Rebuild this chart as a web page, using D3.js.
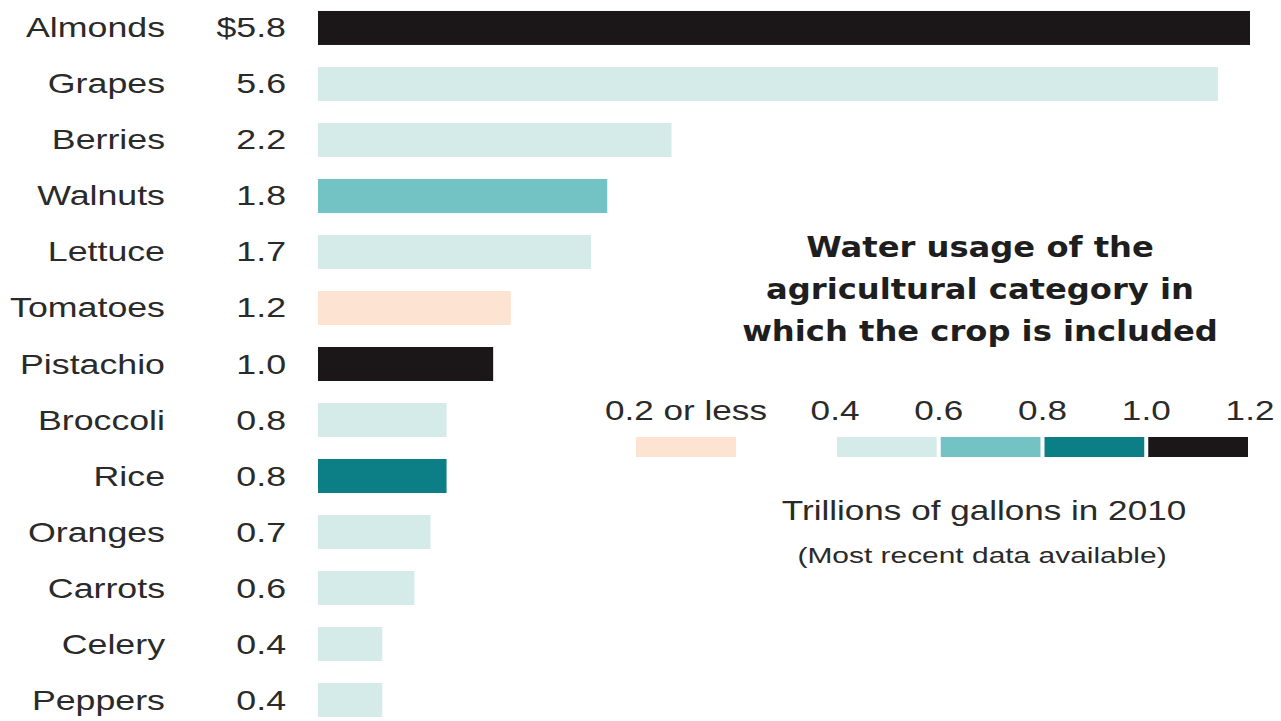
<!DOCTYPE html>
<html>
<head>
<meta charset="utf-8">
<script src="https://cdn.jsdelivr.net/npm/d3@7/dist/d3.min.js"></script>
<style>
  html, body { margin: 0; padding: 0; background: #ffffff; }
  svg { display: block; }
</style>
</head>
<body>
<svg id="chart" width="1281" height="721"></svg>
<script>
// ---- Data ----
const crops = ["Almonds","Grapes","Berries","Walnuts","Lettuce","Tomatoes","Pistachio","Broccoli","Rice","Oranges","Carrots","Celery","Peppers"];
const values = [5.8, 5.6, 2.2, 1.8, 1.7, 1.2, 1.09, 0.8, 0.8, 0.7, 0.6, 0.4, 0.4];
const valueLabels = ["$5.8","5.6","2.2","1.8","1.7","1.2","1.0","0.8","0.8","0.7","0.6","0.4","0.4"];
// water-usage bin of each crop's agricultural category
const cropBins = ["1.0–1.2","0.4–0.6","0.4–0.6","0.6–0.8","0.4–0.6","0.2 or less","1.0–1.2","0.4–0.6","0.8–1.0","0.4–0.6","0.4–0.6","0.4–0.6","0.4–0.6"];
const bins = ["0.2 or less","0.4–0.6","0.6–0.8","0.8–1.0","1.0–1.2"];
const binColors = ["#fde4d2","#d4ebea","#74c3c4","#0b7e86","#1b1718"];
const legendTicks = [0.4, 0.6, 0.8, 1.0, 1.2];
const legendSteps = [[0.4,0.6],[0.6,0.8],[0.8,1.0],[1.0,1.2]];
const titleLines = ["Water usage of the","agricultural category in","which the crop is included"];
const noteLines = ["Trillions of gallons in 2010","(Most recent data available)"];

// ---- Layout ----
const svg = d3.select("#chart");
const textColor = "#2a2a2a";
const regFont = "'Liberation Sans', Arial, sans-serif";
const boldFont = "'DejaVu Sans', sans-serif";
const SX = 1.3;   // horizontal stretch of regular text
const SXB = 1.15; // horizontal stretch of bold text

const x = d3.scaleLinear().domain([0, 5.8]).range([318, 1250]);
const y = d3.scaleBand().domain(crops).range([0, 728]).paddingInner(0.393).paddingOuter(0.196);
const color = d3.scaleOrdinal().domain(bins).range(binColors);

function addText(g, str, tx, ty, opts) {
  return g.append("text")
    .attr("transform", `translate(${tx},${ty}) scale(${opts.sx || SX},1)`)
    .attr("text-anchor", opts.anchor || "start")
    .attr("font-family", opts.font || regFont)
    .attr("font-weight", opts.weight || "normal")
    .attr("font-size", opts.size || 27)
    .attr("fill", opts.fill || textColor)
    .text(str);
}

const rows = crops.map((c, i) => ({crop: c, value: values[i], label: valueLabels[i], bin: cropBins[i]}));

// Bars
svg.append("g").selectAll("rect").data(rows).join("rect")
  .attr("x", x(0))
  .attr("y", d => y(d.crop))
  .attr("width", d => x(d.value) - x(0))
  .attr("height", y.bandwidth())
  .attr("fill", d => color(d.bin));

// Category & value labels
const lab = svg.append("g");
rows.forEach(d => {
  const cy = y(d.crop) + y.bandwidth() / 2 + 9.5;
  addText(lab, d.crop, 165, cy, {anchor: "end", size: 27.5});
  addText(lab, d.label, 286, cy, {anchor: "end", size: 27.5});
});

// Legend title
const leg = svg.append("g");
titleLines.forEach((t, i) => {
  addText(leg, t, 980, 257 + i * 42, {anchor: "middle", font: boldFont, weight: "bold", size: 28, sx: SXB, fill: "#1e1e1e"});
});

// Legend scale
const xl = d3.scaleLinear().domain([0.4, 1.2]).range([836, 1251]);
legendTicks.forEach(v => {
  addText(leg, d3.format(".1f")(v), xl(v) - 1, 420, {anchor: "middle", size: 27});
});
addText(leg, bins[0], 686, 420, {anchor: "middle", size: 27});

leg.append("rect").attr("x", 636).attr("y", 437).attr("width", 100).attr("height", 20).attr("fill", color(bins[0]));
leg.selectAll("rect.step").data(legendSteps).join("rect")
  .attr("class", "step")
  .attr("x", d => xl(d[0]) + 1)
  .attr("y", 437)
  .attr("width", d => xl(d[1]) - xl(d[0]) - 4)
  .attr("height", 20)
  .attr("fill", (d, i) => color(bins[i + 1]));

addText(leg, noteLines[0], 984, 520, {anchor: "middle", size: 27, sx: 1.3});
addText(leg, noteLines[1], 982, 563, {anchor: "middle", size: 22.5, sx: 1.33});
</script>
</body>
</html>
